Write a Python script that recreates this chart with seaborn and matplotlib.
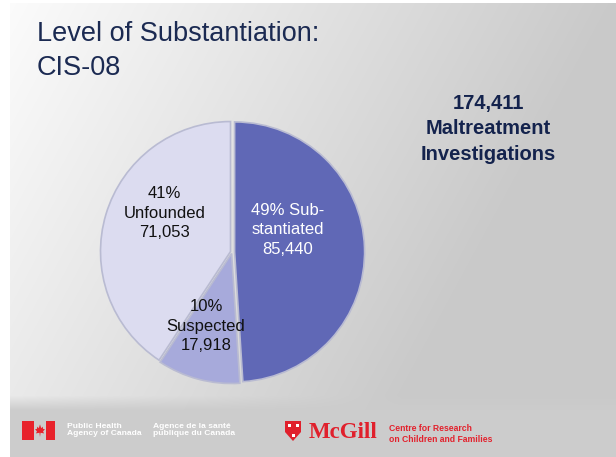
import numpy as np
import matplotlib
matplotlib.use("Agg")
import matplotlib.pyplot as plt
from matplotlib.patches import Rectangle, Polygon
import seaborn as sns

sns.set_style("white")
plt.rcParams["font.family"] = ["Liberation Sans", "DejaVu Sans"]

# Investigation outcomes, CIS-08
categories = ["Substantiated", "Suspected", "Unfounded"]
counts = [85440, 17918, 71053]
percents = [49, 10, 41]
label_names = ["Sub-\nstantiated", "Suspected", "Unfounded"]
total_investigations = 174411

W, H = 616, 457
fig = plt.figure(figsize=(W / 100, H / 100), dpi=100)

# Slide background: soft white-to-grey gradient, with a flat footer band
bg = fig.add_axes([0, 0, 1, 1])
yy, xx = np.mgrid[0:H, 0:W]
g = 0.99 - 0.2 * np.clip(xx / W + 0.4 * yy / H, 0, 1)
blend = np.clip((yy - 395) / 15, 0, 1)
g = g * (1 - blend) + 0.80 * blend
img = np.dstack([g, g, g])
img[:, :10, :] = 1.0
img[:3, :, :] = 1.0
bg.imshow(img, extent=(0, W, H, 0), aspect="auto", interpolation="bilinear")
bg.set_xlim(0, W)
bg.set_ylim(H, 0)
bg.axis("off")

navy = "#1b2a52"
bg.text(37, 21, "Level of Substantiation:\nCIS-08", fontsize=19.5, color=navy,
        va="top", ha="left", linespacing=1.38)
bg.text(488, 129, f"{total_investigations:,}\nMaltreatment\nInvestigations",
        fontsize=14.5, fontweight="bold", color="#14234d",
        ha="center", va="center", linespacing=1.45)

# Footer: agency and university marks
red = "#e8222b"
bg.add_patch(Rectangle((22, 421), 12, 19, color=red, lw=0))
bg.add_patch(Rectangle((46, 421), 9, 19, color=red, lw=0))
leaf = np.array([[0, -1], [0.1, -0.35], [0.75, -0.45], [0.55, -0.15], [0.9, 0.2],
                 [0.55, 0.25], [0.5, 0.6], [0.22, 0.35], [0, 0.95], [-0.22, 0.35],
                 [-0.5, 0.6], [-0.55, 0.25], [-0.9, 0.2], [-0.55, -0.15],
                 [-0.75, -0.45], [-0.1, -0.35]])
bg.add_patch(Polygon(np.c_[40 + 5.5 * leaf[:, 0], 430.5 - 6.5 * leaf[:, 1]],
                     closed=True, color=red, lw=0))
bg.text(67, 430, "Public Health\nAgency of Canada", fontsize=6.1, fontweight="bold",
        color="white", va="center", ha="left", linespacing=1.1)
bg.text(153, 430, "Agence de la santé\npublique du Canada", fontsize=6.1,
        fontweight="bold", color="white", va="center", ha="left", linespacing=1.1)

shield = np.array([[285, 421], [301, 421], [301, 432], [293, 441], [285, 432]])
bg.add_patch(Polygon(shield, closed=True, color="#e0202c", lw=0))
for sx, sy in [(289, 425), (297, 425), (293, 435)]:
    bg.add_patch(Rectangle((sx - 1.5, sy - 1.5), 3, 3, color="white", lw=0))
bg.text(309, 433, "McGill", fontsize=16.5, fontweight="bold", color="#e0202c",
        va="center", ha="left", family=["Liberation Serif", "DejaVu Serif"])
bg.text(389, 434, "Centre for Research\non Children and Families", fontsize=6.2,
        fontweight="bold", color="#e3212c", va="center", ha="left",
        linespacing=1.3)

# Pie of investigation outcomes
R = 130
cx, cy = 232, 252
pad = 1.04
ax = fig.add_axes([(cx - R * pad) / W, (H - cy - R * pad) / H,
                   2 * R * pad / W, 2 * R * pad / H])
ax.set_facecolor("none")
colors = ["#6068b6", "#a7aadb", "#dcdcf0"]
wedges, _ = ax.pie(counts, colors=colors, startangle=90, counterclock=False,
                   explode=[0.02, 0.012, 0.012],
                   wedgeprops=dict(edgecolor="#b9bbd2", linewidth=1.2))
ax.set_xlim(-pad, pad)
ax.set_ylim(-pad, pad)
ax.set_aspect("equal")

label_pos = [(0.43, 0.17), (-0.2, -0.57), (-0.52, 0.30)]
text_colors = ["white", "#111111", "#111111"]
for i in range(len(categories)):
    if i == 0:
        s = f"{percents[i]}% {label_names[i]}\n{counts[i]:,}"
    else:
        s = f"{percents[i]}%\n{label_names[i]}\n{counts[i]:,}"
    ax.text(*label_pos[i], s, ha="center", va="center", fontsize=12,
            color=text_colors[i], linespacing=1.35)

fig.savefig("out.png", dpi=100)
